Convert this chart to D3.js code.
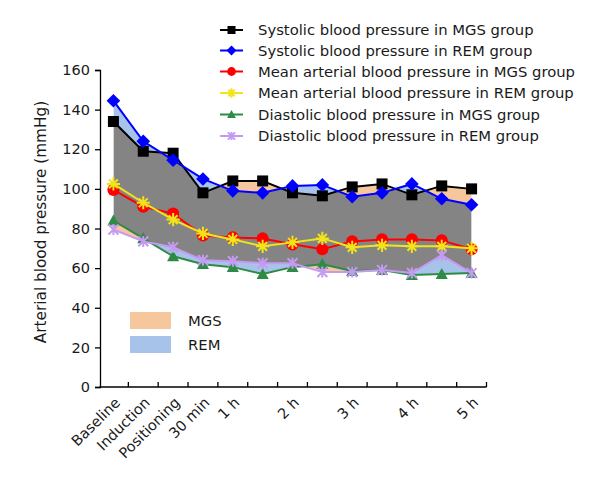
<!DOCTYPE html>
<html><head><meta charset="utf-8">
<script src="https://cdn.jsdelivr.net/npm/d3@7"></script>
<style>body{margin:0;background:#fff}svg{display:block}text{font-family:"DejaVu Sans",Verdana,sans-serif;fill:#1a1a1a}</style>
</head><body>
<svg id="c" width="600" height="485"></svg>
<script>
const categories = ["Baseline","Induction","Positioning","30 min","1 h","","2 h","","3 h","","4 h","","5 h"];
const sysMGS = [134, 119, 118, 98, 104, 104, 98, 96.5, 101, 102.5, 97, 101.5, 100];
const sysREM = [144.5, 124, 114.5, 105, 99, 98, 101.5, 102, 96, 98, 102.5, 95, 92];
const mapMGS = [99.5, 91, 87.5, 76.5, 75.5, 75, 72, 69.5, 73.5, 74.5, 74.5, 74, 69.5];
const mapREM = [102.5, 93, 84.5, 77.5, 74.5, 71, 73, 75, 70.5, 71.5, 71, 71, 70];
const diaMGS = [84, 75, 66, 62, 60.5, 57, 60.5, 62, 58.5, 59, 56.5, 57, 57.5];
const diaREM = [79.5, 73.5, 70.5, 64, 63.5, 62.5, 62.5, 58, 58, 59, 57.5, 66.5, 57.5];
const yTicks = [0, 20, 40, 60, 80, 100, 120, 140, 160];
const seriesNames = ["Systolic blood pressure in MGS group","Systolic blood pressure in REM group",
  "Mean arterial blood pressure in MGS group","Mean arterial blood pressure in REM group",
  "Diastolic blood pressure in MGS group","Diastolic blood pressure in REM group"];
const bandNames = ["MGS","REM"];

const svg = d3.select("#c");
const idx = d3.range(categories.length);
const x = d3.scaleBand().domain(idx).range([98.5, 486.5]);
const cx = i => x(i) + x.bandwidth()/2;
const y = d3.scaleLinear().domain([0,160]).range([387,70]);

const ORANGE = "#F6C69C", BLUE = "#A7C3EA", GRAY = "#848484";
const defs = svg.append("defs");
function areaBetween(a, b){ return d3.area().x(i=>cx(i)).y0(i=>y(a[i])).y1(i=>y(b[i]))(idx); }
function areaAbove(a){ return d3.area().x(i=>cx(i)).y0(0).y1(i=>y(a[i]))(idx); }
function clip(id, d){ defs.append("clipPath").attr("id", id).append("path").attr("d", d); }
clip("aRS", areaAbove(sysREM));
clip("aMS", areaAbove(sysMGS));
clip("aRD", areaAbove(diaREM));
clip("aMD", areaAbove(diaMGS));
clip("remBand", areaBetween(diaREM, sysREM));

const g = svg.append("g");
g.append("path").attr("d", areaBetween(sysREM, sysMGS)).attr("fill", ORANGE).attr("clip-path","url(#aRS)");
g.append("path").attr("d", areaBetween(sysREM, sysMGS)).attr("fill", BLUE).attr("clip-path","url(#aMS)");
g.append("path").attr("d", areaBetween(diaREM, diaMGS)).attr("fill", BLUE).attr("clip-path","url(#aMD)");
g.append("path").attr("d", areaBetween(diaREM, diaMGS)).attr("fill", ORANGE).attr("clip-path","url(#aRD)");
g.append("path").attr("d", areaBetween(diaMGS, sysMGS)).attr("fill", GRAY).attr("clip-path","url(#remBand)");

// axes
const yAxis = d3.axisLeft(y).tickValues(yTicks).tickSize(5).tickPadding(5);
const ya = svg.append("g").attr("transform","translate(100,0)").call(yAxis);
ya.select(".domain").attr("stroke","#000").attr("stroke-width",1.3);
ya.selectAll(".tick line").attr("stroke","#000").attr("stroke-width",1.3);
ya.selectAll("text").style("font-size","14.5px").attr("fill","#1a1a1a");

const xa = svg.append("g").attr("transform","translate(0,387)");
xa.append("line").attr("x1",99.5).attr("x2",486.5).attr("y1",0).attr("y2",0).attr("stroke","#000").attr("stroke-width",1.3);
xa.selectAll("line.t").data(d3.range(1, categories.length+1)).join("line").attr("class","t")
  .attr("x1", i=>x(i-1)+x.bandwidth()).attr("x2", i=>x(i-1)+x.bandwidth()).attr("y1",0).attr("y2",-5)
  .attr("stroke","#000").attr("stroke-width",1.3);
xa.selectAll("text").data(idx.filter(i=>categories[i]!=="")).join("text")
  .attr("transform", i=>`translate(${cx(i)+4},13) rotate(-45)`)
  .attr("text-anchor","end").attr("dy","0.35em").style("font-size","14.5px").text(i=>categories[i]);

svg.append("text").attr("transform","translate(46,222) rotate(-90)").attr("text-anchor","middle")
  .style("font-size","15.3px").text("Arterial blood pressure (mmHg)");

// series
const series = [
  {v: sysMGS, c:"#000000", m:"square"},
  {v: sysREM, c:"#0000FF", m:"diamond"},
  {v: mapMGS, c:"#FF0000", m:"circle"},
  {v: mapREM, c:"#F2E41A", m:"star"},
  {v: diaMGS, c:"#2E8B45", m:"triangle"},
  {v: diaREM, c:"#C69AF2", m:"x"}
];
function marker(sel, m, c, s){
  if (m==="square") sel.append("rect").attr("x",-s*0.5).attr("y",-s*0.5).attr("width",s).attr("height",s).attr("fill",c);
  else if (m==="diamond") sel.append("path").attr("d",`M0,${-s*0.62}L${s*0.62},0L0,${s*0.62}L${-s*0.62},0Z`).attr("fill",c);
  else if (m==="circle") sel.append("circle").attr("r",s*0.55).attr("fill",c);
  else if (m==="triangle") sel.append("path").attr("d",`M0,${-s*0.55}L${s*0.55},${s*0.45}L${-s*0.55},${s*0.45}Z`).attr("fill",c);
  else if (m==="star") sel.append("path").attr("d",`M0,${-s*0.6}V${s*0.6}M${-s*0.6},0H${s*0.6}M${-s*0.4},${-s*0.4}L${s*0.4},${s*0.4}M${-s*0.4},${s*0.4}L${s*0.4},${-s*0.4}`).attr("stroke",c).attr("stroke-width",2).attr("fill","none");
  else if (m==="x") sel.append("path").attr("d",`M${-s*0.45},${-s*0.45}L${s*0.45},${s*0.45}M${-s*0.45},${s*0.45}L${s*0.45},${-s*0.45}M0,${-s*0.5}V${s*0.5}`).attr("stroke",c).attr("stroke-width",2).attr("fill","none");
}
const line = v => d3.line().x(i=>cx(i)).y(i=>y(v[i]))(idx);
series.forEach(s=>{
  const sg = svg.append("g");
  sg.append("path").attr("d", line(s.v)).attr("fill","none").attr("stroke", s.c).attr("stroke-width", 2);
  idx.forEach(i=>{
    const mg = sg.append("g").attr("transform",`translate(${cx(i)},${y(s.v[i])})`);
    marker(mg, s.m, s.c, 11);
  });
});

// legend
const lg = svg.append("g");
series.forEach((s,k)=>{
  const yy = [30, 50.5, 71.5, 93, 114.5, 136][k];
  lg.append("line").attr("x1",220).attr("x2",243).attr("y1",yy).attr("y2",yy).attr("stroke",s.c).attr("stroke-width",2);
  const mg = lg.append("g").attr("transform",`translate(231.5,${yy})`);
  marker(mg, s.m, s.c, 8);
  lg.append("text").attr("x",258).attr("y",yy).attr("dy","0.35em").style("font-size","14.8px").text(seriesNames[k]);
});
[[ORANGE,320.5],[BLUE,344.5]].forEach(([c,yy],k)=>{
  lg.append("rect").attr("x",130).attr("y",yy-8.5).attr("width",41).attr("height",17).attr("fill",c);
  lg.append("text").attr("x",188).attr("y",yy).attr("dy","0.35em").style("font-size","14.8px").text(bandNames[k]);
});
</script>
</body></html>
